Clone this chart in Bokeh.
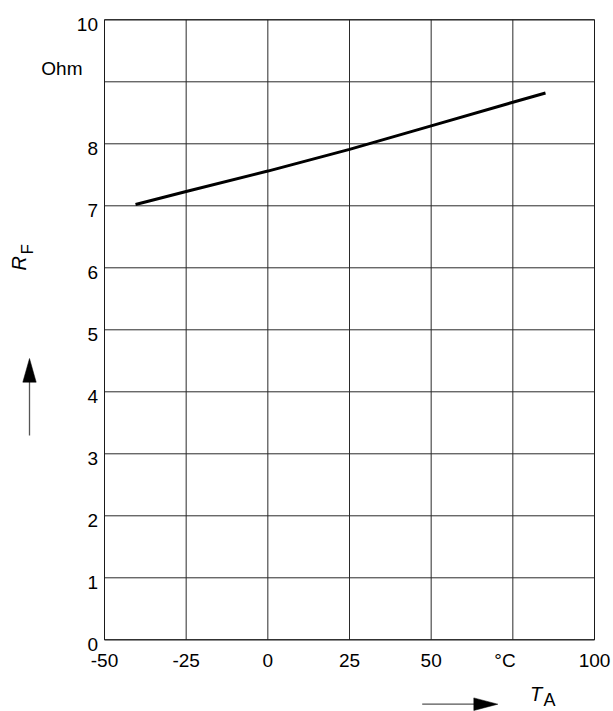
import math
from bokeh.plotting import figure
from bokeh.models import Range1d
from bokeh.core.properties import value
from bokeh.embed import file_html
from bokeh.resources import INLINE

# ---- data ----
temp_c = [-40.5, -25, 0, 25, 50, 75, 85]
rf_ohm = [7.02, 7.23, 7.56, 7.91, 8.29, 8.67, 8.82]

x_ticks = [-50, -25, 0, 25, 50, 75, 100]
x_tick_labels = ["-50", "-25", "0", "25", "50", "", "100"]
y_ticks = [0, 1, 2, 3, 4, 5, 6, 7, 8, 9, 10]
y_tick_labels = ["0", "1", "2", "3", "4", "5", "6", "7", "8", "", "10"]
x_unit = "°C"
y_unit = "Ohm"

X_MIN, X_MAX = -50, 100
Y_MIN, Y_MAX = 0, 10

FONT = "Liberation Sans"
W, H = 613, 711
# plot frame (pixel box of the chart area on the canvas)
FL, FR, FT, FB = 104.0, 594.0, 19.3, 639.3
SX = (FR - FL) / (X_MAX - X_MIN)
SY = (FB - FT) / (Y_MAX - Y_MIN)
BL = 7.0  # baseline correction of the renderer's text placement, px


def px2x(px):
    return X_MIN + (px - FL) / SX


def py2y(py):
    return Y_MIN + (FB - py) / SY


p = figure(width=W, height=H, output_backend="svg", toolbar_location=None,
           x_range=Range1d(px2x(0), px2x(W)), y_range=Range1d(py2y(H), py2y(0)),
           x_axis_location=None, y_axis_location=None,
           min_border=0, min_border_left=0, min_border_right=0,
           min_border_top=0, min_border_bottom=0)
p.grid.visible = False
p.outline_line_color = None
p.background_fill_color = "white"
p.border_fill_color = "white"

GRID = "#2a2a2a"
# vertical and horizontal grid lines
p.segment(x0=x_ticks, y0=[Y_MIN] * len(x_ticks), x1=x_ticks, y1=[Y_MAX] * len(x_ticks),
          line_color=GRID, line_width=1)
p.segment(x0=[X_MIN] * len(y_ticks), y0=y_ticks, x1=[X_MAX] * len(y_ticks), y1=y_ticks,
          line_color=GRID, line_width=1)
# frame border
p.quad(left=[X_MIN], right=[X_MAX], bottom=[Y_MIN], top=[Y_MAX],
       fill_color=None, line_color="#1a1a1a", line_width=1)

# curve
p.line(temp_c, rf_ohm, line_color="black", line_width=3)

# tick labels
p.text(x=x_ticks, y=[py2y(666.5 - BL)] * len(x_ticks), text=x_tick_labels,
       text_align="center", text_baseline="alphabetic",
       text_font=value(FONT), text_font_size="19px", text_color="black")
p.text(x=[px2x(97.5)] * len(y_ticks), y=[t - (12.0 - BL) / SY for t in y_ticks], text=y_tick_labels,
       text_align="right", text_baseline="alphabetic",
       text_font=value(FONT), text_font_size="19px", text_color="black")

# unit labels
p.text(x=[px2x(504.5)], y=[py2y(666.5 - BL)], text=[x_unit], text_align="center",
       text_baseline="alphabetic", text_font=value(FONT), text_font_size="19px",
       text_color="black")
p.text(x=[px2x(82)], y=[py2y(75 - BL)], text=[y_unit], text_align="right",
       text_baseline="alphabetic", text_font=value(FONT), text_font_size="19px",
       text_color="black")

# axis title R_F (rotated) with arrow
p.text(x=[px2x(25.5 - BL)], y=[py2y(270)], text=["R"], angle=math.pi / 2,
       text_align="left", text_baseline="alphabetic", text_font=value(FONT),
       text_font_size="20px", text_font_style="italic", text_color="black")
p.text(x=[px2x(33.5 - BL)], y=[py2y(254)], text=["F"], angle=math.pi / 2,
       text_align="left", text_baseline="alphabetic", text_font=value(FONT),
       text_font_size="17px", text_color="black")
p.line(x=[px2x(29), px2x(29)], y=[py2y(435), py2y(378)], line_color="#555555", line_width=1.3)
p.patch(x=[px2x(22.3), px2x(29), px2x(35.7)], y=[py2y(381.7), py2y(358), py2y(381.7)],
        fill_color="black", line_color="black", line_width=0.5)

# axis title T_A with arrow
p.text(x=[px2x(529.5)], y=[py2y(700.5 - BL)], text=["T"],
       text_align="left", text_baseline="alphabetic", text_font=value(FONT),
       text_font_size="20px", text_font_style="italic", text_color="black")
p.text(x=[px2x(543)], y=[py2y(706.5 - BL)], text=["A"],
       text_align="left", text_baseline="alphabetic", text_font=value(FONT),
       text_font_size="18px", text_color="black")
p.line(x=[px2x(421.7), px2x(476)], y=[py2y(703.7), py2y(703.7)], line_color="#555555", line_width=1.3)
p.patch(x=[px2x(473.3), px2x(497.3), px2x(473.3)], y=[py2y(697.4), py2y(703.7), py2y(710)],
        fill_color="black", line_color="black", line_width=0.5)

open("out.html", "w").write(file_html(p, INLINE))
